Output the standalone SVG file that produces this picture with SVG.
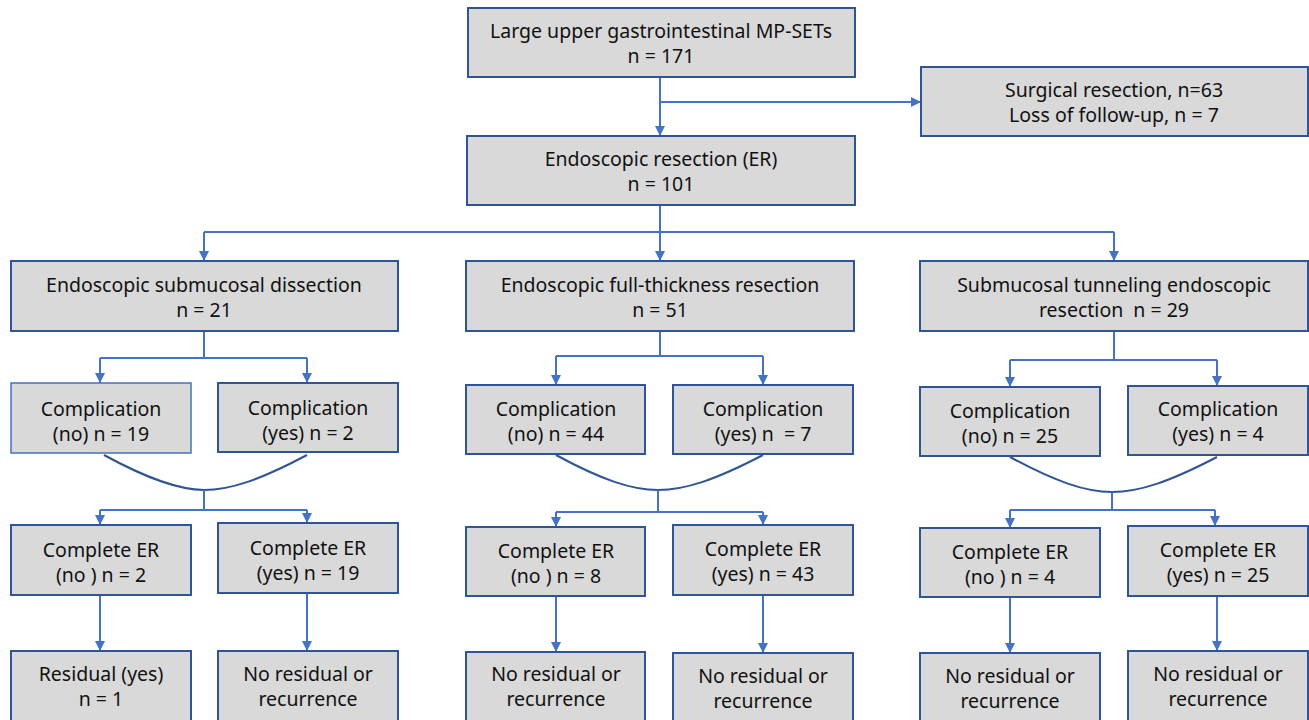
<svg xmlns="http://www.w3.org/2000/svg" width="1309" height="720" viewBox="0 0 1309 720">
<defs>
<style>
.box{fill:#d9d9d9;stroke:#2f5597;stroke-width:2}
.boxl{fill:#d9d9d9;stroke:#4472c4;stroke-width:1.5}
.t{font-family:"Noto Sans","Open Sans",sans-serif;font-size:19.5px;fill:#111;text-anchor:middle;white-space:pre}
.c{fill:none;stroke:#4472c4;stroke-width:2}
.cv{fill:none;stroke:#2f5597;stroke-width:2}
</style>
<marker id="ar" viewBox="0 0 10 10" refX="10" refY="5" markerWidth="10" markerHeight="10" markerUnits="userSpaceOnUse" orient="auto">
<path d="M0,0 L10,5 L0,10 z" fill="#4472c4"/>
</marker>
</defs>
<rect width="1309" height="720" fill="#fff"/>
<g id="connectors">
<path class="c" d="M660,77 V136" marker-end="url(#ar)"/>
<path class="c" d="M660,102 H921" marker-end="url(#ar)"/>
<path class="c" d="M660,205 V232"/>
<path class="c" d="M204,232 H1114"/>
<path class="c" d="M204,232 V261" marker-end="url(#ar)"/>
<path class="c" d="M660,232 V261" marker-end="url(#ar)"/>
<path class="c" d="M1114,232 V261" marker-end="url(#ar)"/>
<path class="c" d="M204,331 V358 M100,358 H307"/>
<path class="c" d="M100,358 V383" marker-end="url(#ar)"/>
<path class="c" d="M307,358 V383" marker-end="url(#ar)"/>
<path class="c" d="M660,331 V356 M556,356 H763"/>
<path class="c" d="M556,356 V385" marker-end="url(#ar)"/>
<path class="c" d="M763,356 V385" marker-end="url(#ar)"/>
<path class="c" d="M1114,331 V360 M1010,360 H1217"/>
<path class="c" d="M1010,360 V387" marker-end="url(#ar)"/>
<path class="c" d="M1217,360 V386" marker-end="url(#ar)"/>
<path class="cv" d="M104,455 C150,480 180,490 204,490 C230,490 260,480 307,455"/>
<path class="cv" d="M556,455 C602,480 632,490 658,490 C685,490 715,480 763,455"/>
<path class="cv" d="M1010,457 C1056,482 1086,492 1112,492 C1139,492 1169,482 1217,457"/>
<path class="c" d="M204,490 V510 M100,510 H307"/>
<path class="c" d="M100,510 V525" marker-end="url(#ar)"/>
<path class="c" d="M307,510 V523" marker-end="url(#ar)"/>
<path class="c" d="M658,490 V512 M556,512 H763"/>
<path class="c" d="M556,512 V527" marker-end="url(#ar)"/>
<path class="c" d="M763,512 V525" marker-end="url(#ar)"/>
<path class="c" d="M1112,492 V510 M1010,510 H1215"/>
<path class="c" d="M1010,510 V528" marker-end="url(#ar)"/>
<path class="c" d="M1215,510 V526" marker-end="url(#ar)"/>
<path class="c" d="M100,595 V651" marker-end="url(#ar)"/>
<path class="c" d="M307,593 V651" marker-end="url(#ar)"/>
<path class="c" d="M556,596 V652" marker-end="url(#ar)"/>
<path class="c" d="M763,595 V653" marker-end="url(#ar)"/>
<path class="c" d="M1010,597 V653" marker-end="url(#ar)"/>
<path class="c" d="M1217,596 V651" marker-end="url(#ar)"/>
</g>
<g id="n-start"><rect class="box" x="468" y="8" width="387" height="69"/><text class="t" x="661" y="38">Large upper gastrointestinal MP-SETs</text><text class="t" x="661" y="63">n = 171</text></g>
<g id="n-surgical"><rect class="box" x="921" y="67" width="387" height="69"/><text class="t" x="1114" y="97">Surgical resection, n=63</text><text class="t" x="1114" y="122">Loss of follow-up, n = 7</text></g>
<g id="n-er"><rect class="box" x="467" y="136" width="388" height="69"/><text class="t" x="661" y="166">Endoscopic resection (ER)</text><text class="t" x="661" y="191">n = 101</text></g>
<g id="n-esd"><rect class="box" x="11" y="261" width="387" height="70"/><text class="t" x="204" y="292">Endoscopic submucosal dissection</text><text class="t" x="204" y="317">n = 21</text></g>
<g id="n-eftr"><rect class="box" x="466" y="261" width="388" height="70"/><text class="t" x="660" y="292">Endoscopic full-thickness resection</text><text class="t" x="660" y="317">n = 51</text></g>
<g id="n-ster"><rect class="box" x="920" y="261" width="388" height="70"/><text class="t" x="1114" y="292">Submucosal tunneling endoscopic</text><text class="t" x="1114" y="317">resection  n = 29</text></g>
<g id="n-esd-cno"><rect class="boxl" x="11" y="383" width="180" height="70"/><text class="t" x="101" y="416">Complication</text><text class="t" x="101" y="441">(no) n = 19</text></g>
<g id="n-esd-cyes"><rect class="box" x="218" y="383" width="180" height="69"/><text class="t" x="308" y="415">Complication</text><text class="t" x="308" y="440">(yes) n = 2</text></g>
<g id="n-eftr-cno"><rect class="box" x="466" y="385" width="179" height="69"/><text class="t" x="556" y="416">Complication</text><text class="t" x="556" y="441">(no) n = 44</text></g>
<g id="n-eftr-cyes"><rect class="box" x="673" y="385" width="180" height="69"/><text class="t" x="763" y="416">Complication</text><text class="t" x="763" y="441">(yes) n  = 7</text></g>
<g id="n-ster-cno"><rect class="box" x="920" y="387" width="180" height="69"/><text class="t" x="1010" y="418">Complication</text><text class="t" x="1010" y="443">(no) n = 25</text></g>
<g id="n-ster-cyes"><rect class="box" x="1128" y="386" width="180" height="69"/><text class="t" x="1218" y="416">Complication</text><text class="t" x="1218" y="441">(yes) n = 4</text></g>
<g id="n-esd-erno"><rect class="box" x="11" y="525" width="180" height="70"/><text class="t" x="101" y="557">Complete ER</text><text class="t" x="101" y="582">(no ) n = 2</text></g>
<g id="n-esd-eryes"><rect class="box" x="218" y="523" width="180" height="70"/><text class="t" x="308" y="555">Complete ER</text><text class="t" x="308" y="580">(yes) n = 19</text></g>
<g id="n-eftr-erno"><rect class="box" x="466" y="527" width="179" height="69"/><text class="t" x="556" y="558">Complete ER</text><text class="t" x="556" y="583">(no ) n = 8</text></g>
<g id="n-eftr-eryes"><rect class="box" x="673" y="525" width="180" height="70"/><text class="t" x="763" y="556">Complete ER</text><text class="t" x="763" y="581">(yes) n = 43</text></g>
<g id="n-ster-erno"><rect class="box" x="920" y="528" width="180" height="69"/><text class="t" x="1010" y="559">Complete ER</text><text class="t" x="1010" y="584">(no ) n = 4</text></g>
<g id="n-ster-eryes"><rect class="box" x="1128" y="526" width="180" height="70"/><text class="t" x="1218" y="557">Complete ER</text><text class="t" x="1218" y="582">(yes) n = 25</text></g>
<g id="n-esd-res"><rect class="box" x="11" y="651" width="180" height="80"/><text class="t" x="101" y="681">Residual (yes)</text><text class="t" x="101" y="706">n = 1</text></g>
<g id="n-esd-nores"><rect class="box" x="218" y="651" width="180" height="80"/><text class="t" x="308" y="681">No residual or</text><text class="t" x="308" y="706">recurrence</text></g>
<g id="n-eftr-nores1"><rect class="box" x="466" y="652" width="179" height="80"/><text class="t" x="556" y="681">No residual or</text><text class="t" x="556" y="706">recurrence</text></g>
<g id="n-eftr-nores2"><rect class="box" x="673" y="653" width="180" height="80"/><text class="t" x="763" y="683">No residual or</text><text class="t" x="763" y="708">recurrence</text></g>
<g id="n-ster-nores1"><rect class="box" x="920" y="653" width="180" height="80"/><text class="t" x="1010" y="683">No residual or</text><text class="t" x="1010" y="708">recurrence</text></g>
<g id="n-ster-nores2"><rect class="box" x="1128" y="651" width="180" height="80"/><text class="t" x="1218" y="681">No residual or</text><text class="t" x="1218" y="706">recurrence</text></g>
</svg>
